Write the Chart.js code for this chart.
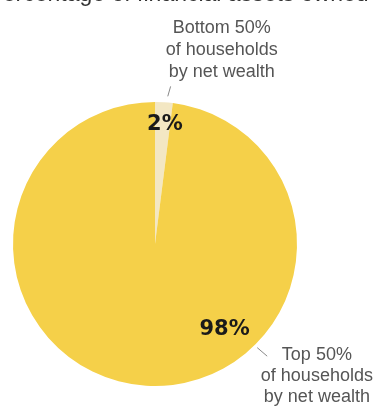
<!DOCTYPE html>
<html>
<head>
<meta charset="utf-8">
<script src="https://cdn.jsdelivr.net/npm/chart.js@4"></script>
<style>
  html, body { margin: 0; padding: 0; background: #fff; }
  #wrap { position: relative; width: 377px; height: 409px; overflow: hidden; }
</style>
</head>
<body>
<div id="wrap"><canvas id="pie" width="377" height="409"></canvas></div>
<script>
// ==== DATA ====
const title = "Percentage of financial assets owned";
const groups = ["Bottom 50%\nof households\nby net wealth", "Top 50%\nof households\nby net wealth"];
const shares = [2, 98];
const shareLabels = ["2%", "98%"];
const colors = ["#F3E7C3", "#F5D049"];

// draws the cut-off title, value labels and leader notes
const notes = {
    id: "notes",
    afterDraw(chart) {
        const ctx = chart.ctx;
        const arcs = chart.getDatasetMeta(0).data;
        const cx = arcs[0].x, cy = arcs[0].y, r = arcs[0].outerRadius;
        ctx.save();

        // title, mostly above the frame
        ctx.fillStyle = "#333";
        ctx.font = "23px 'Liberation Sans', Arial, sans-serif";
        ctx.textAlign = "center";
        ctx.textBaseline = "alphabetic";
        ctx.fillText(title, 178, 1);

        // percentages
        ctx.fillStyle = "#1a1a1a";
        ctx.font = "bold 21px 'DejaVu Sans', sans-serif";
        ctx.textBaseline = "middle";
        ctx.fillText(shareLabels[0], cx + 0.07 * r, cy - 0.84 * r);
        ctx.fillText(shareLabels[1], cx + 0.49 * r, cy + 0.6 * r);

        // group notes
        ctx.fillStyle = "#555";
        ctx.font = "18px 'Liberation Sans', Arial, sans-serif";
        groups[0].split("\n").forEach((s, i) => ctx.fillText(s, cx + 0.47 * r, cy - 1.52 * r + i * 22));
        groups[1].split("\n").forEach((s, i) => ctx.fillText(s, cx + 1.14 * r, cy + 0.78 * r + i * 21));

        // leader lines
        ctx.strokeStyle = "#888";
        ctx.lineWidth = 1;
        ctx.beginPath();
        ctx.moveTo(cx + 0.11 * r, cy - 1.11 * r);
        ctx.lineTo(cx + 0.09 * r, cy - 1.04 * r);
        ctx.moveTo(cx + 0.72 * r, cy + 0.73 * r);
        ctx.lineTo(cx + 0.79 * r, cy + 0.79 * r);
        ctx.stroke();
        ctx.restore();
    }
};

new Chart(document.getElementById("pie"), {
    type: "pie",
    data: {
        labels: groups,
        datasets: [{
            data: shares,
            backgroundColor: colors,
            borderWidth: 0
        }]
    },
    options: {
        responsive: false,
        animation: false,
        layout: { padding: { left: 13, top: 102, right: 80, bottom: 23 } },
        plugins: {
            legend: { display: false },
            tooltip: { enabled: false }
        }
    },
    plugins: [notes]
});
</script>
</body>
</html>
